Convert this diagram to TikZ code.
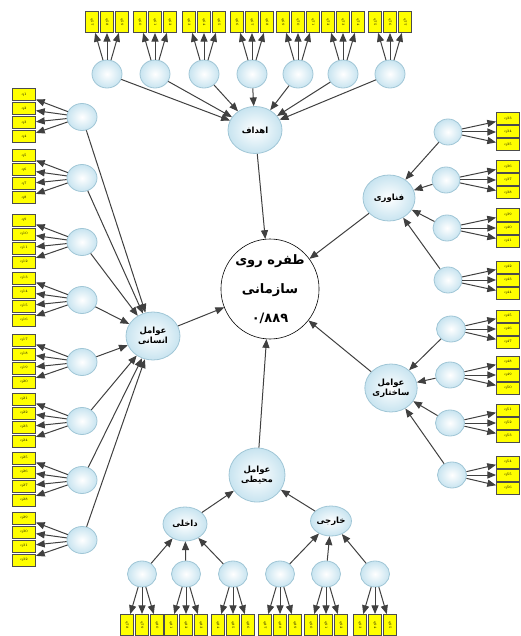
\documentclass[tikz,border=0pt]{standalone}
\usepackage{fontspec}
\usepackage{tikz}
\usetikzlibrary{arrows,shapes.geometric}
\newfontfamily\arabicfont[Script=Arabic]{DejaVu Sans}
\TeXXeTstate=1
\newcommand{\fa}[1]{\beginR #1\endR}
\definecolor{latfill}{RGB}{200,228,240}
\definecolor{latedge}{RGB}{160,198,214}
\definecolor{qyellow}{RGB}{255,255,0}

\tikzset{
	latent/.style={ellipse, draw=latedge, line width=0.8pt, inner color=white, outer color=latfill,
		inner sep=0pt, align=center, font=\arabicfont\bfseries\fontsize{8.5}{10}\selectfont},
	dimen/.style={latent, minimum width=30pt, minimum height=27pt},
	centre/.style={ellipse, draw=black, line width=0.6pt, fill=white, inner sep=0pt,
		minimum width=94pt, minimum height=100pt, align=center,
		font=\arabicfont\bfseries\fontsize{13}{29}\selectfont},
	qbox/.style={rectangle, draw=black!70, line width=1pt, fill=qyellow, inner sep=0pt,
		minimum width=23pt, minimum height=12pt, font=\fontsize{3.5}{4}\selectfont},
	qboxv/.style={qbox, minimum width=21pt, minimum height=13pt, rotate=-90},
	link/.style={->, draw=black!75, line width=1pt}
}

\begin{document}
\begin{tikzpicture}[x=1pt,y=-1pt,>=triangle 45]
	\useasboundingbox (0,0) rectangle (521,636);

	% central construct
	\node[centre] (slack) at (270,289) {\fa{طفره روی}\\\fa{سازمانی}\\۰/۸۸۹};

	% second-order factors
	\node[latent, minimum width=54pt, minimum height=47pt] (goal) at (255,130) {\fa{اهداف}};
	\node[latent, minimum width=52pt, minimum height=46pt] (tech) at (389,198) {\fa{فناوری}};
	\node[latent, minimum width=52pt, minimum height=48pt] (struct) at (391,388) {\fa{عوامل}\\\fa{ساختاری}};
	\node[latent, minimum width=56pt, minimum height=54pt] (env) at (257,475) {\fa{عوامل}\\\fa{محیطی}};
	\node[latent, minimum width=54pt, minimum height=48pt] (human) at (153,336) {\fa{عوامل}\\\fa{انسانی}};
	\node[latent, minimum width=44pt, minimum height=34pt] (inner) at (185,524) {\fa{داخلی}};
	\node[latent, minimum width=40pt, minimum height=30pt] (outer) at (331,521) {\fa{خارجی}};

	\foreach \f in {goal,tech,struct,env,human}
		\draw[link] (\f) -- (slack);
	\draw[link] (inner) -- (env);
	\draw[link] (outer) -- (env);

	% human factors (left)
	\foreach \i/\y in {1/117,2/178,3/242,4/300,5/362,6/421,7/480,8/540}{
		\node[dimen] (hum\i) at (82,\y) {};
		\foreach \j/\dy in {1/-22,2/-8,3/6,4/20}{
			\pgfmathtruncatemacro\q{4*(\i-1)+\j}
			\node[qbox] (hum\i q\j) at (24,\y+\dy) {q\q};
			\draw[link] (hum\i) -- (hum\i q\j);
		}
		\draw[link] (hum\i) -- (human);
	}

	% technology (right, upper)
	\foreach \i/\x/\y in {1/448/132,2/446/180,3/447/228,4/448/280}{
		\node[dimen, minimum width=28pt, minimum height=26pt] (tec\i) at (\x,\y) {};
		\foreach \j/\dy in {1/-13,2/0,3/13}{
			\pgfmathtruncatemacro\q{32+3*(\i-1)+\j}
			\node[qbox] (tec\i q\j) at (508,\y+\dy) {q\q};
			\draw[link] (tec\i) -- (tec\i q\j);
		}
		\draw[link] (tec\i) -- (tech);
	}

	% structural factors (right, lower)
	\foreach \i/\x/\y in {1/451/329,2/450/375,3/450/423,4/452/475}{
		\node[dimen, minimum width=29pt, minimum height=26pt] (str\i) at (\x,\y) {};
		\foreach \j/\dy in {1/-13,2/0,3/13}{
			\pgfmathtruncatemacro\q{44+3*(\i-1)+\j}
			\node[qbox] (str\i q\j) at (508,\y+\dy) {q\q};
			\draw[link] (str\i) -- (str\i q\j);
		}
		\draw[link] (str\i) -- (struct);
	}

	% goals (top)
	\foreach \i/\x in {1/107,2/155,3/204,4/252,5/298,6/343,7/390}{
		\node[dimen, minimum width=30pt, minimum height=28pt] (gol\i) at (\x,74) {};
		\foreach \j/\dx in {1/-15,2/0,3/15}{
			\pgfmathtruncatemacro\q{56+3*(\i-1)+\j}
			\node[qboxv] (gol\i q\j) at (\x+\dx,22) {q\q};
			\draw[link] (gol\i) -- (gol\i q\j);
		}
		\draw[link] (gol\i) -- (goal);
	}

	% environmental factors (bottom)
	\foreach \i/\x/\top in {1/142/inner,2/186/inner,3/233/inner,4/280/outer,5/326/outer,6/375/outer}{
		\node[dimen, minimum width=29pt, minimum height=26pt] (env\i) at (\x,574) {};
		\foreach \j/\dx in {1/-15,2/0,3/15}{
			\pgfmathtruncatemacro\q{77+3*(\i-1)+\j}
			\node[qboxv] (env\i q\j) at (\x+\dx,625) {q\q};
			\draw[link] (env\i) -- (env\i q\j);
		}
		\draw[link] (env\i) -- (\top);
	}

\end{tikzpicture}
\end{document}
